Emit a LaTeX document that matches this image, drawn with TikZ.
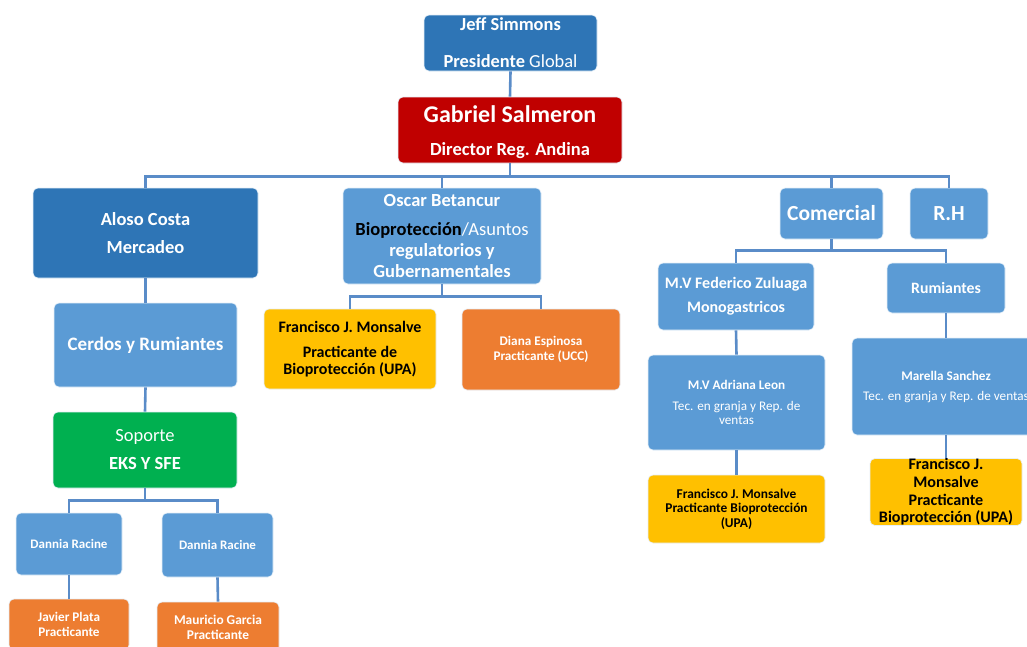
\documentclass[tikz,border=0pt]{standalone}
\usepackage{fontspec}
\setmainfont{Carlito}
\definecolor{darkblue}{HTML}{2E75B6}
\definecolor{lightblue}{HTML}{5B9BD5}
\definecolor{bossred}{HTML}{C00000}
\definecolor{supgreen}{HTML}{00B050}
\definecolor{internorange}{HTML}{ED7D31}
\definecolor{internyellow}{HTML}{FFC000}
\definecolor{linkblue}{HTML}{5A8CC8}
\newcommand\setfs[2]{\fontsize{#1}{#2}\selectfont}
\begin{document}
\begin{tikzpicture}[x=1pt,y=-1pt,
  box/.style={rectangle, rounded corners=5pt, draw=white!85!lightblue, line width=0.6pt,
              inner sep=0pt, align=center, text=white},
  dark/.style={box, fill=darkblue},
  light/.style={box, fill=lightblue},
  red/.style={box, fill=bossred},
  green/.style={box, fill=supgreen},
  orange/.style={box, fill=internorange},
  yellow/.style={box, fill=internyellow, text=black},
  conn/.style={draw=linkblue, line width=2.6pt}]
\useasboundingbox (0,0) rectangle (1027,646);
\clip (0,0) rectangle (1027,646);
\fill[white] (0,0) rectangle (1027,646);

% top management
\node[dark, minimum width=173pt, minimum height=56pt, font=\setfs{18.4}{37}] (jeff) at (510.5,43)
  {\textbf{Jeff Simmons}\\\textbf{Presidente} Global};
\node[red, minimum width=224pt, minimum height=66pt, font=\setfs{18.5}{33}\bfseries] (gabriel) at (510,130)
  {{\setfs{24}{33}\rule{0pt}{22pt}Gabriel Salmeron}\\Director Reg. Andina};

% marketing branch
\node[dark, minimum width=225pt, minimum height=90pt, font=\setfs{18.5}{28}\bfseries] (aloso) at (145.5,233)
  {Aloso Costa\\Mercadeo};
\node[light, minimum width=183pt, minimum height=84pt, font=\setfs{19}{22}\bfseries] (cerdos) at (145.5,345)
  {Cerdos y Rumiantes};
\node[green, minimum width=184pt, minimum height=76pt, font=\setfs{18.5}{28}] (soporte) at (145,450)
  {Soporte\\\textbf{EKS Y SFE}};
\node[light, minimum width=106pt, minimum height=62pt, font=\setfs{13}{15}\bfseries] (dannia1) at (69,544)
  {Dannia Racine};
\node[light, minimum width=111pt, minimum height=64pt, font=\setfs{13}{15}\bfseries] (dannia2) at (217.5,545)
  {Dannia Racine};
\node[orange, minimum width=120pt, minimum height=51pt, font=\setfs{13.2}{15}\bfseries] (javier) at (69,624.5)
  {Javier Plata\\Practicante};
\node[orange, minimum width=122pt, minimum height=51pt, font=\setfs{13.4}{15}\bfseries] (mauricio) at (218,627.5)
  {Mauricio Garcia\\Practicante};

% bioprotection branch
\node[light, minimum width=198pt, minimum height=96pt, font=\setfs{18.5}{20.7}\bfseries] (oscar) at (442,236)
  {Oscar Betancur\\[8.5pt]\textcolor{black}{Bioprotección}\mdseries/Asuntos\\\bfseries regulatorios y\\Gubernamentales};
\node[yellow, minimum width=172pt, minimum height=80pt, font=\setfs{16}{17.5}\bfseries] (franciscoA) at (350,349)
  {Francisco J. Monsalve\\[7.5pt]Practicante de\\Bioprotección (UPA)};
\node[orange, minimum width=158pt, minimum height=81pt, font=\setfs{13.2}{14.5}\bfseries] (diana) at (541,349.5)
  {Diana Espinosa\\Practicante (UCC)};

% commercial branch
\node[light, minimum width=103pt, minimum height=51pt, font=\setfs{21.5}{24}\bfseries] (comercial) at (831.5,213.5)
  {Comercial};
\node[light, minimum width=78pt, minimum height=51pt, font=\setfs{21.5}{24}\bfseries] (rh) at (949,213.5)
  {R.H};
\node[light, minimum width=156pt, minimum height=67pt, font=\setfs{16}{24}\bfseries] (federico) at (736,296.5)
  {M.V Federico Zuluaga\\Monogastricos};
\node[light, minimum width=118pt, minimum height=50pt, font=\setfs{15.8}{18}\bfseries] (rumiantes) at (946,288)
  {Rumiantes};
\node[light, minimum width=177pt, minimum height=95pt, font=\setfs{13.2}{14}] (adriana) at (736.5,402.5)
  {\textbf{M.V Adriana Leon}\\[7.5pt]Tec. en granja y Rep. de\\ventas};
\node[yellow, minimum width=177pt, minimum height=68pt, font=\setfs{13.4}{14.5}\bfseries] (franciscoB) at (736.5,509)
  {Francisco J. Monsalve\\Practicante Bioprotección\\(UPA)};
\node[light, minimum width=188pt, minimum height=97pt, font=\setfs{13.2}{20}] (marella) at (946,386.5)
  {\textbf{Marella Sanchez}\\Tec. en granja y Rep. de ventas};
\node[yellow, minimum width=152pt, minimum height=66pt, font=\setfs{16.1}{17.7}\bfseries] (franciscoC) at (946,492)
  {Francisco J.\\Monsalve\\Practicante\\Bioprotección (UPA)};

% connectors
\draw[conn] (jeff.south) -- (gabriel.north);
\foreach \c in {aloso, oscar, comercial, rh}
  \draw[conn] (gabriel.south) -- ++(0,13) -| (\c.north);
\draw[conn] (aloso.south) -- (cerdos.north);
\draw[conn] (cerdos.south) -- (soporte.north);
\foreach \c in {dannia1, dannia2}
  \draw[conn] (soporte.south) -- ++(0,12) -| (\c.north);
\draw[conn] (dannia1.south) -- (javier.north);
\draw[conn] (dannia2.south) -- (mauricio.north);
\foreach \c in {franciscoA, diana}
  \draw[conn] (oscar.south) -- ++(0,12) -| (\c.north);
\foreach \c in {federico, rumiantes}
  \draw[conn] (comercial.south) -- ++(0,11) -| (\c.north);
\draw[conn] (federico.south) -- (adriana.north);
\draw[conn] (adriana.south) -- (franciscoB.north);
\draw[conn] (rumiantes.south) -- (marella.north);
\draw[conn] (marella.south) -- (franciscoC.north);
\end{tikzpicture}
\end{document}
